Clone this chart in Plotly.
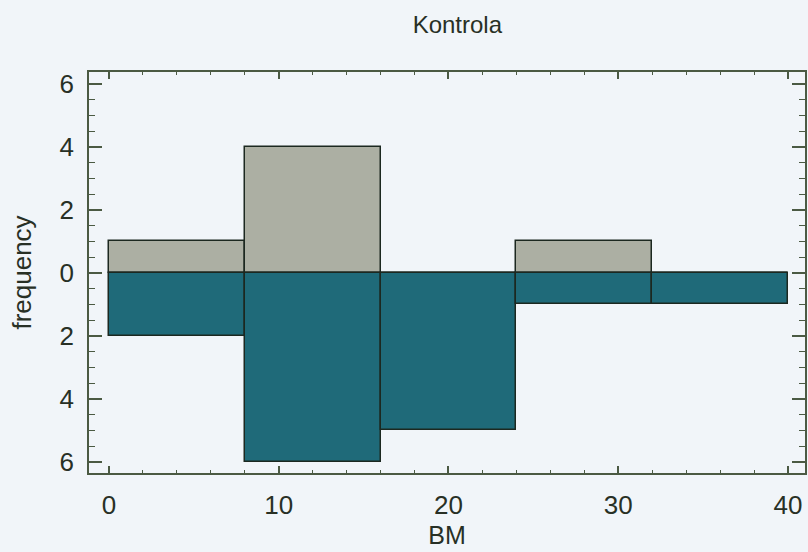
import plotly.graph_objects as go

# BM bins (left edges, width 8) and counts for the two groups
bin_edges = [0, 8, 16, 24, 32, 40]
upper_counts = [1, 4, 0, 1, 0]   # grey, drawn above zero
lower_counts = [2, 6, 5, 1, 1]   # teal, drawn below zero

y_tickvals = [-6, -4, -2, 0, 2, 4, 6]
y_ticktext = ["6", "4", "2", "0", "2", "4", "6"]

centers = [(a + b) / 2 for a, b in zip(bin_edges[:-1], bin_edges[1:])]
widths = [b - a for a, b in zip(bin_edges[:-1], bin_edges[1:])]

axis_col = "#4b5a43"
outline = "#1c2820"
font_col = "#283025"

fig = go.Figure()
fig.add_trace(go.Bar(
    x=centers, y=upper_counts, width=widths,
    marker=dict(color="#acafa3", line=dict(color=outline, width=1.5)),
    showlegend=False,
))
fig.add_trace(go.Bar(
    x=centers, y=[-c for c in lower_counts], width=widths,
    marker=dict(color="#1f6a79", line=dict(color=outline, width=1.5)),
    showlegend=False,
))

fig.update_layout(
    width=808, height=552,
    margin=dict(l=89, r=1, t=72, b=79),
    paper_bgcolor="#f1f5f9", plot_bgcolor="#f1f5f9",
    barmode="overlay", bargap=0,
    font=dict(family="Liberation Sans, Arial, sans-serif", color=font_col),
    title=dict(text="Kontrola", x=0.566, xanchor="center", y=0.956, yanchor="middle",
               font=dict(size=24, color=font_col)),
)

fig.update_xaxes(
    range=[-1.17, 41.0], tickvals=[0, 10, 20, 30, 40],
    ticks="inside", ticklen=7, tickwidth=1.5, tickcolor=axis_col,
    minor=dict(dtick=2, ticks="inside", ticklen=3, tickwidth=1.2, tickcolor=axis_col),
    showline=True, linecolor=axis_col, linewidth=1.5, mirror="ticks",
    showgrid=False, zeroline=False,
    tickfont=dict(size=26), ticklabelstandoff=8,
    title=dict(text="BM", font=dict(size=25), standoff=8),
)
fig.update_yaxes(
    range=[-6.35, 6.38], tickvals=y_tickvals, ticktext=y_ticktext,
    ticks="inside", ticklen=13, tickwidth=1.5, tickcolor=axis_col,
    minor=dict(dtick=0.5, ticks="inside", ticklen=6, tickwidth=1.2, tickcolor=axis_col),
    showline=True, linecolor=axis_col, linewidth=1.5, mirror="ticks",
    showgrid=False, zeroline=False,
    tickfont=dict(size=26), ticklabelstandoff=8,
    title=dict(text="frequency", font=dict(size=26), standoff=20),
)

fig.write_html("out.html")
